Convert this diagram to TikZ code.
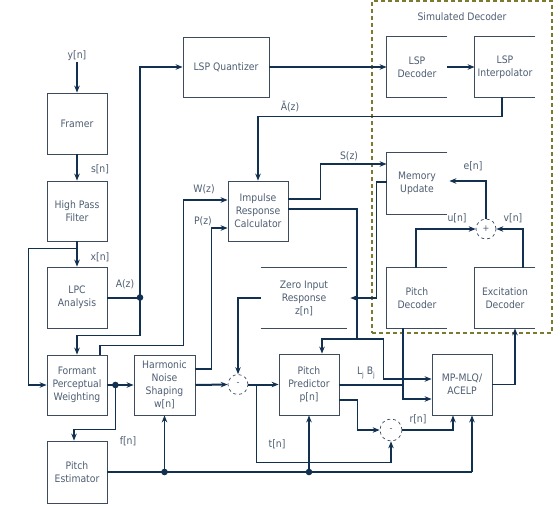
\documentclass[tikz,border=0pt]{standalone}
\usepackage{fontspec}
\setmainfont{DejaVu Sans Condensed}
\usetikzlibrary{arrows.meta,calc}
\definecolor{wire}{HTML}{12304F}
\definecolor{boxc}{HTML}{3C4C5E}
\definecolor{txt}{HTML}{4E5E72}
\definecolor{olivec}{HTML}{7C7A2E}
\begin{document}
\begin{tikzpicture}[x=1pt,y=-1pt,
  blk/.style={rectangle,draw=boxc,line width=0.8pt,inner sep=0pt,align=center,text=txt,font=\fontsize{10.3}{13}\selectfont},
  oblk/.style={blk,draw=none},
  lab/.style={text=txt,font=\fontsize{10.3}{12}\selectfont,inner sep=1pt},
  w/.style={draw=wire,line width=1.25pt},
  wt/.style={draw=wire,line width=2pt},
  arr/.style={-{Stealth[length=7pt,width=5.5pt]}},
  sumc/.style={circle,draw=boxc,dashed,line width=0.7pt,inner sep=0pt,text=txt,font=\fontsize{9}{9}\selectfont},
  edge/.style={draw=boxc,line width=0.8pt},
  dotc/.style={fill=wire}
]
\useasboundingbox (0,0) rectangle (560,506);
\fill[white] (0,0) rectangle (560,506);

% simulated decoder frame
\node[draw=olivec,line width=1.6pt,dash pattern=on 4pt off 3pt,minimum width=180pt,minimum height=332pt,inner sep=0pt] (sim) at (462,167) {};
\node[lab] (simlab) at (462,17) {Simulated Decoder};

% blocks
\node[blk,minimum width=60pt,minimum height=61pt] (fr) at (77,123.5) {Framer};
\node[blk,minimum width=60pt,minimum height=60pt] (hp) at (77,211) {High Pass\\Filter};
\node[blk,minimum width=60pt,minimum height=61pt] (lpc) at (77,297.5) {LPC\\Analysis};
\node[blk,minimum width=86pt,minimum height=60pt] (lq) at (226,67) {LSP Quantizer};
\node[oblk,minimum width=60pt,minimum height=60pt] (ld) at (417,67) {LSP\\Decoder};
\node[oblk,minimum width=60pt,minimum height=60pt] (li) at (505,67) {LSP\\Interpolator};
\node[blk,minimum width=60pt,minimum height=60pt] (ir) at (258,211) {Impulse\\Response\\Calculator};
\node[oblk,minimum width=60pt,minimum height=61pt] (mu) at (417,183.5) {Memory\\Update};
\node[oblk,minimum width=86pt,minimum height=60pt] (zir) at (304,298) {Zero Input\\Response\\z[n]};
\node[oblk,minimum width=60pt,minimum height=60pt] (pd) at (417,298) {Pitch\\Decoder};
\node[oblk,minimum width=60pt,minimum height=60pt] (ed) at (505,298) {Excitation\\Decoder};
\node[blk,minimum width=60pt,minimum height=60pt] (fm) at (77,385) {Formant\\Perceptual\\Weighting};
\node[blk,minimum width=61pt,minimum height=60pt] (hn) at (164.5,385) {Harmonic\\Noise\\Shaping\\w[n]};
\node[blk,minimum width=60pt,minimum height=62pt] (pe) at (77,472) {Pitch\\Estimator};
\node[blk,minimum width=60pt,minimum height=61pt] (pp) at (309,384.5) {Pitch\\Predictor\\p[n]};
\node[blk,minimum width=60pt,minimum height=61pt] (mp) at (462,384.5) {MP-MLQ/\\ACELP};
\node[sumc,minimum size=20pt] (c1) at (238,384.5) {-};
\node[sumc,minimum size=22pt] (c2) at (391,430) {-};
\node[sumc,minimum size=20pt] (sm) at (486,229) {+};

% open outlines
\foreach \n in {ld,li,mu,pd,ed}{
  \draw[edge] (\n.north east) -- (\n.north west) -- (\n.south west) -- (\n.south east);
}
\draw[edge] (zir.north west) -- (zir.north east);
\draw[edge] (zir.south west) -- (zir.south east);

% labels
\node[lab] (yn) at (77,56) {y[n]};
\node[lab] at (100,169) {s[n]};
\node[lab] at (100,257) {x[n]};
\node[lab] at (125,284) {A(z)};
\node[lab] at (204,189) {W(z)};
\node[lab] at (203,221) {P(z)};
\node[lab] at (290,107) {Ā(z)};
\node[lab] at (349,156) {S(z)};
\node[lab] at (473,166) {e[n]};
\node[lab] at (457,218) {u[n]};
\node[lab] at (513,218) {v[n]};
\node[lab] at (128,441) {f[n]};
\node[lab] at (277,444) {t[n]};
\node[lab] at (418,419) {r[n]};
\node[lab] at (366,373) {L\raisebox{-2.5pt}{\fontsize{7}{7}\selectfont j} B\raisebox{-2.5pt}{\fontsize{7}{7}\selectfont j}};

% left chain
\draw[w,arr] (yn.south) -- (fr.north);
\draw[w,arr] (fr.south) -- (hp.north);
\draw[w,arr] (hp.south) -- (lpc.north);
\coordinate (xb) at ($(hp.south)+(0,7)$);
\draw[w,arr] (xb) -| ($(fm.west)+(-18,0)$) -- (fm.west);

% A(z)
\coordinate (dotA) at (140,297.5);
\draw[wt] (lpc.east) -- (dotA);
\draw[w,arr] (dotA) |- (lq.west);
\draw[w,arr] (dotA) |- ($(fm.north)+(0,-19)$) -- (fm.north);
\fill[dotc] (dotA) circle (3.3pt);

% LSP path
\draw[wt,arr] (lq.east) -- (ld.west);
\draw[w,arr] (ld.east) -- (li.west);
\draw[w,arr] ($(li.south)+(-3,0)$) |- ($(ir.north)+(0,-64)$) -- (ir.north);

% W(z), P(z)
\draw[w,arr] ($(fm.north)+(23,0)$) -- ++(0,-9) -| ($(ir.west)+(-44,-11)$) -- ($(ir.west)+(0,-11)$);
\draw[w,arr] ($(hn.east)+(0,-16)$) -| ($(ir.west)+(-16,17)$) -- ($(ir.west)+(0,17)$);

% S(z)
\draw[w,arr] ($(ir.east)+(0,-12)$) -| ($(mu.west)+(-66,-19.5)$) -- ($(mu.west)+(0,-19.5)$);

% impulse response to predictor and MP-MLQ
\coordinate (j1) at (357,339);
\draw[w,arr] ($(ir.east)+(0,-2)$) -| (j1) -| ($(pp.north)+(13,0)$);
\draw[w,arr] (j1) -| ($(mp.west)+(-48,-5.5)$) -- ($(mp.west)+(0,-5.5)$);

% pitch decoder to MP-MLQ, L B
\coordinate (pdb) at ($(pd.south)+(-14,0)$);
\draw[w,arr] (pdb) |- ($(mp.west)+(0,14.5)$);
\draw[wt] (pp.east) -- (pp.east -| pdb);

% memory update to zero input response
\draw[w,arr] ($(mu.west)+(0,-1.5)$) -- ++(-10,0) |- ($(zir.east)+(3,0)$);
\draw[w,arr] (zir.west) -| (c1.north);

% main forward path
\coordinate (dotF) at ($(fm.east)+(8,0)$);
\draw[wt,arr] (fm.east) -- (hn.west);
\draw[w,arr] (dotF) |- ($(pe.north)+(-3,-11)$) -- ($(pe.north)+(-3,0)$);
\fill[dotc] (dotF) circle (3.3pt);
\draw[wt,arr] (hn.east) -- (c1.west);
\draw[wt,arr] (c1.east) -- (pp.west);
\coordinate (tb) at ($(c1.east)+(8,0)$);
\draw[w,arr] (tb) |- ($(c2.south)+(0,21)$) -- (c2.south);
\draw[w,arr] ($(pp.east)+(0,15.5)$) -- ++(18,0) |- (c2.west);
\draw[w,arr] (c2.east) -| ($(mp.south)+(-9,0)$);

% pitch estimator line
\coordinate (mpb) at ($(mp.south)+(10,0)$);
\draw[wt] (pe.east) -- (pe.east -| mpb);
\draw[w,arr] (pe.east -| mpb) -- (mpb);
\draw[w,arr] (pe.east -| hn.south) -- (hn.south);
\draw[w,arr] (pe.east -| pp.south) -- (pp.south);
\fill[dotc] (pe.east -| hn.south) circle (3.3pt);
\fill[dotc] (pe.east -| pp.south) circle (3.3pt);

% decoder internals
\draw[w,arr] (mp.east) -| ($(ed.south)+(10,0)$);
\draw[w,arr] ($(pd.north)+(-1,0)$) |- (sm.west);
\draw[w,arr] ($(ed.north)+(18,0)$) |- (sm.east);
\draw[w,arr] (sm.north) |- ($(mu.east)+(2,-2.5)$);
\end{tikzpicture}
\end{document}
